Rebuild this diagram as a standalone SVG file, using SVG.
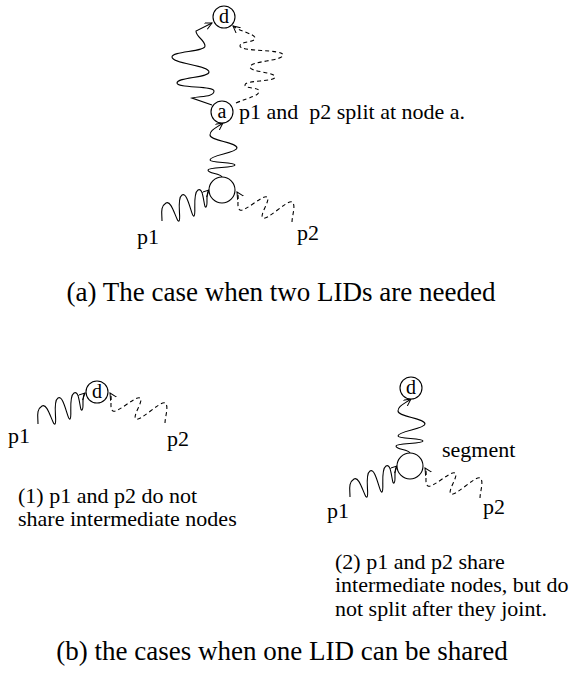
<svg xmlns="http://www.w3.org/2000/svg" width="573" height="688" viewBox="0 0 573 688">
<style>
text { font-family: "Liberation Serif", "Times New Roman", serif; fill: #000; }
.lbl { font-size: 22px; }
.cap { font-size: 27px; text-anchor: middle; }
.node circle { fill: #fff; stroke: #000; stroke-width: 1.1; }
.node text { font-size: 20px; text-anchor: middle; }
.w { fill: none; stroke: #000; stroke-width: 1.1; marker-end: url(#arr); }
.dash { stroke-dasharray: 4 3; }
</style>
<defs>
<marker id="arr" markerWidth="10" markerHeight="10" refX="7" refY="3.5" orient="auto" markerUnits="userSpaceOnUse">
<path d="M0,0 L7,3.5 L0,7" fill="none" stroke="#000" stroke-width="1"/>
</marker>
<path id="wC" d="M222,177 C220,173 208,174 208,170 C208,167 235,168 235,165 C235,162 210,163 210,160 C210,155 237,153 237,148 C237,142 210,141 210,135 C210,130 216,128 223,123"/>
<path id="wD" d="M162,221 C162,213 160.05,206.7 166,203 C171.95,199.3 176.45,222.6 179,221 C181.55,219.4 176.05,198.7 182,195 C187.95,191.3 191.45,217.6 194,216 C196.55,214.4 192.05,193.7 198,190 C203.95,186.3 203.45,208.6 206,207 C208.55,205.4 205,194 209,190"/>
<path id="wE" d="M292,222 C292,216 296.3,204.6 292,202 C287.7,199.4 267.3,220.6 263,218 C258.7,215.4 271.3,199.6 267,197 C262.7,194.4 244.3,212.6 240,210 C235.7,207.4 240,197 237,192"/>
</defs>

<g id="connectors">
  <path class="w" d="M212,105 L192,98 C201,96 214,97 214,91 C214,85.5 177,88.5 177,83 C177,77 209,78 209,72 C209,65 172,64 172,57 C172,51 205,52 205,46 C205,40 196,37 196,31 L212,23"/>
  <path class="w dash" d="M236,103 C250,97 259,96 259,91 C259,87 245,89 245,85 C245,80 275,82 275,77 C275,72 250,72 250,67 C250,61 283,61 283,55 C283,49 240,52 240,46 C240,41 255,43 255,38 C255,34 239,31 233,26"/>
  <use href="#wC" class="w"/>
  <use href="#wD" class="w"/>
  <use href="#wE" class="w dash"/>
  <use href="#wD" class="w" transform="translate(-124,203)"/>
  <use href="#wE" class="w dash" transform="translate(-127,201)"/>
  <use href="#wC" class="w" transform="translate(188,276)"/>
  <use href="#wD" class="w" transform="translate(188,276)"/>
  <use href="#wE" class="w dash" transform="translate(188,276)"/>
</g>

<g id="node-d-a" class="node"><circle cx="224" cy="17" r="11"/><text x="224" y="23">d</text></g>
<g id="node-a" class="node"><circle cx="222" cy="112" r="11"/><text x="222" y="118">a</text></g>
<g id="node-j-a" class="node"><circle cx="222" cy="190" r="13"/></g>
<g id="node-d-1" class="node"><circle cx="97" cy="392" r="11"/><text x="97" y="398">d</text></g>
<g id="node-d-2" class="node"><circle cx="411" cy="388" r="11"/><text x="411" y="394">d</text></g>
<g id="node-j-2" class="node"><circle cx="410" cy="466" r="13"/></g>

<g id="labels">
  <text class="lbl" x="239" y="119" xml:space="preserve">p1 and  p2 split at node a.</text>
  <text class="lbl" x="137" y="244">p1</text>
  <text class="lbl" x="297" y="240">p2</text>
  <text class="cap" x="281" y="301">(a) The case when two LIDs are needed</text>
  <text class="lbl" x="8" y="443">p1</text>
  <text class="lbl" x="167" y="446">p2</text>
  <text class="lbl" x="18" y="503">(1) p1 and p2 do not</text>
  <text class="lbl" x="18" y="526">share intermediate nodes</text>
  <text class="lbl" x="442" y="457">segment</text>
  <text class="lbl" x="327" y="518">p1</text>
  <text class="lbl" x="483" y="514">p2</text>
  <text class="lbl" x="335" y="569">(2) p1 and p2 share</text>
  <text class="lbl" x="335" y="592">intermediate nodes, but do</text>
  <text class="lbl" x="335" y="616">not split after they joint.</text>
  <text class="cap" x="282" y="660">(b) the cases when one LID can be shared</text>
</g>
</svg>
